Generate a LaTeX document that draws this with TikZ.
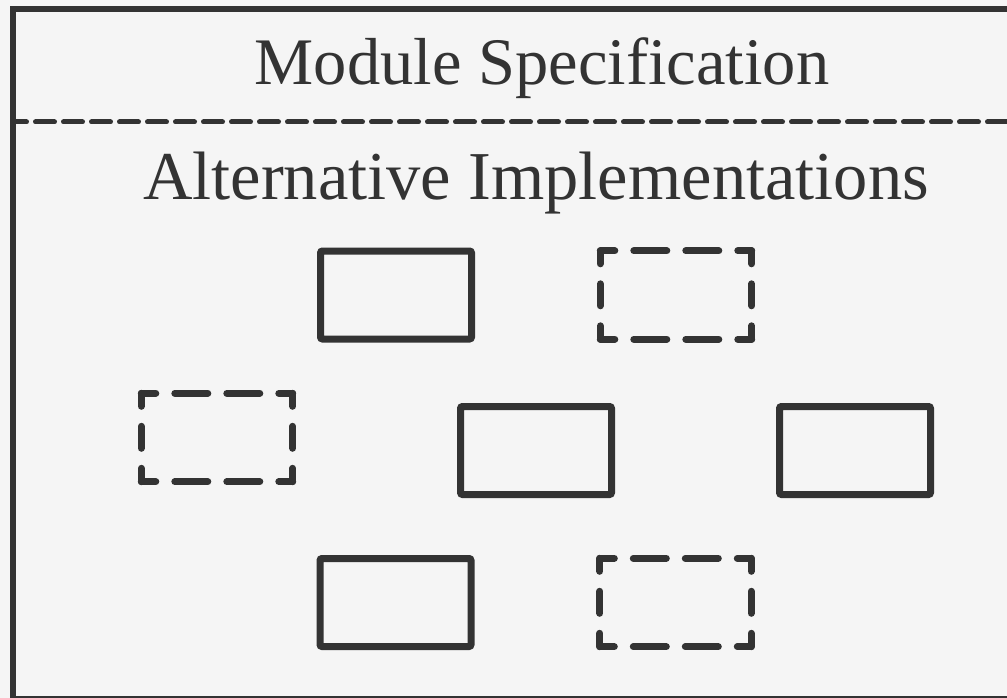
\documentclass[tikz,border=0pt]{standalone}
\usepackage{fontspec}
\setmainfont{Liberation Serif}
\definecolor{ink}{HTML}{333333}
\definecolor{paper}{HTML}{F5F5F5}
\newcommand\ghostsides[1]{%
  \draw[hside] (#1.north west) -- (#1.north east);
  \draw[hside] (#1.south west) -- (#1.south east);
  \draw[vside] (#1.north west) -- (#1.south west);
  \draw[vside] (#1.north east) -- (#1.south east);}
\begin{document}
\begin{tikzpicture}[x=1pt,y=-1pt,
  frame/.style={draw=ink, line width=6.5pt},
  sep/.style={draw=ink, line width=5pt, line cap=round, dash pattern=on 19pt off 9pt, dash phase=5.5pt},
  title/.style={text=ink, anchor=base, inner sep=0pt},
  implbox/.style={draw=ink, line width=7pt, rounded corners=2pt, minimum width=151pt, minimum height=88pt, inner sep=0pt},
  ghostbox/.style={minimum width=151pt, minimum height=88pt, inner sep=0pt},
  hside/.style={draw=ink, line width=7pt, line cap=round, dash pattern=on 33pt off 19pt, dash phase=18.5pt},
  vside/.style={draw=ink, line width=7pt, line cap=round, dash pattern=on 22pt off 20pt, dash phase=9pt}]
\fill[paper] (0,0) rectangle (1007,698);
\useasboundingbox (0,0) rectangle (1007,698);
\clip (0,0) rectangle (1007,698);
\draw[frame] (13,9) rectangle (1014,699);
\draw[sep] (13,122) -- (1014,122);
\node[title, font=\fontsize{66.5}{70}\selectfont] (spec) at (542,85) {Module Specification};
\node[title, font=\fontsize{68.5}{72}\selectfont] (alt) at (536,200) {Alternative Implementations};
\node[implbox] (a) at (396,295) {};
\node[ghostbox] (b) at (676,295) {};
\node[ghostbox] (c) at (217,437.5) {};
\node[implbox] (d) at (536,450.5) {};
\node[implbox] (e) at (855,450.5) {};
\node[implbox] (f) at (395.5,602.5) {};
\node[ghostbox] (g) at (675.5,602.5) {};
\ghostsides{b}
\ghostsides{c}
\ghostsides{g}
\end{tikzpicture}
\end{document}
